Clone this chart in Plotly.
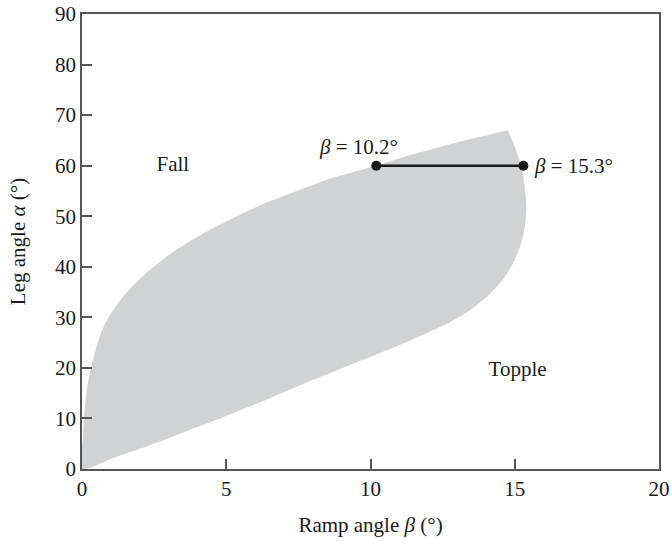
import plotly.graph_objects as go

# Fall boundary (upper edge of the stable region): ramp angle beta vs leg angle alpha
fall_beta = [0.0, 0.03, 0.08, 0.18, 0.31, 0.5, 0.7, 0.92, 1.2, 1.5, 1.9, 2.4, 3.0, 3.7,
             4.5, 5.4, 6.4, 7.5, 8.7, 10.2, 11.5, 13.0, 14.76]
fall_alpha = [0.0, 6.0, 11.0, 16.0, 20.0, 24.2, 27.5, 30.0, 32.4, 34.6, 37.0, 39.6, 42.3, 44.9,
              47.5, 50.1, 52.7, 55.1, 57.6, 60.0, 62.3, 64.6, 67.0]

# Topple boundary (right/lower edge), from the tip back to the origin
topple_beta = [14.76, 15.02, 15.22, 15.32, 15.38, 15.4, 15.34, 15.2, 14.95, 14.6, 14.1,
               13.5, 12.8, 12.0, 11.0, 10.0, 9.0, 8.0, 7.0, 6.0, 5.0, 4.0, 3.0,
               2.0, 1.0, 0.0]
topple_alpha = [67.0, 63.5, 60.0, 57.0, 54.0, 51.0, 47.6, 44.2, 40.8, 37.6, 34.4,
                31.6, 29.2, 27.0, 24.5, 22.2, 19.9, 17.6, 15.2, 12.8, 10.5, 8.3, 6.1,
                4.0, 2.0, 0.0]

# Range of stable ramp angles at alpha = 60 deg
range_beta = [10.2, 15.3]
range_alpha = [60, 60]

region_labels = ["Fall", "Topple"]
region_beta = [3.15, 15.1]
region_alpha = [60, 19.5]

FONT = "Liberation Serif"
AXIS_COLOR = "#555555"
TEXT_COLOR = "#1a1a1a"
FS = 21

fig = go.Figure()

fig.add_trace(go.Scatter(
    x=fall_beta + topple_beta,
    y=fall_alpha + topple_alpha,
    mode="lines",
    fill="toself",
    fillcolor="#d1d2d4",
    line=dict(width=0, color="#d1d2d4", shape="spline", smoothing=0.6),
    hoverinfo="skip",
    showlegend=False,
))

fig.add_trace(go.Scatter(
    x=range_beta, y=range_alpha,
    mode="lines+markers",
    line=dict(color=TEXT_COLOR, width=2.5),
    marker=dict(color=TEXT_COLOR, size=10),
    showlegend=False,
))

fig.add_trace(go.Scatter(
    x=region_beta, y=region_alpha,
    mode="text",
    text=region_labels,
    textfont=dict(family=FONT, size=FS, color=TEXT_COLOR),
    showlegend=False,
))

fig.add_annotation(
    x=range_beta[0], y=range_alpha[0],
    text=f"<i>β</i> = {range_beta[0]}°",
    showarrow=False, xanchor="center", yanchor="bottom",
    xshift=-18, yshift=5,
    font=dict(family=FONT, size=FS, color=TEXT_COLOR),
)
fig.add_annotation(
    x=range_beta[1], y=range_alpha[1],
    text=f"<i>β</i> = {range_beta[1]}°",
    showarrow=False, xanchor="left", yanchor="middle",
    xshift=9,
    font=dict(family=FONT, size=FS, color=TEXT_COLOR),
)

axis_common = dict(
    showline=True, linecolor=AXIS_COLOR, linewidth=1.5, mirror=True,
    ticks="inside", ticklen=10, tickwidth=1.5, tickcolor=AXIS_COLOR,
    showgrid=False, zeroline=False, automargin=False,
    tickfont=dict(family=FONT, size=FS, color=TEXT_COLOR),
)

fig.update_xaxes(
    range=[0, 20], tickvals=[0, 5, 10, 15, 20],
    title=dict(text="Ramp angle <i>β</i> (°)", font=dict(family=FONT, size=FS, color=TEXT_COLOR), standoff=17),
    **axis_common,
)
fig.update_yaxes(
    range=[0, 90], tickvals=list(range(0, 91, 10)),
    title=dict(text="Leg angle <i>α</i> (°)", font=dict(family=FONT, size=FS, color=TEXT_COLOR), standoff=24),
    **axis_common,
)

fig.update_layout(
    width=671, height=541,
    margin=dict(l=82, r=12, t=14, b=72),
    plot_bgcolor="white", paper_bgcolor="white",
    showlegend=False,
)

fig.write_html("out.html")
